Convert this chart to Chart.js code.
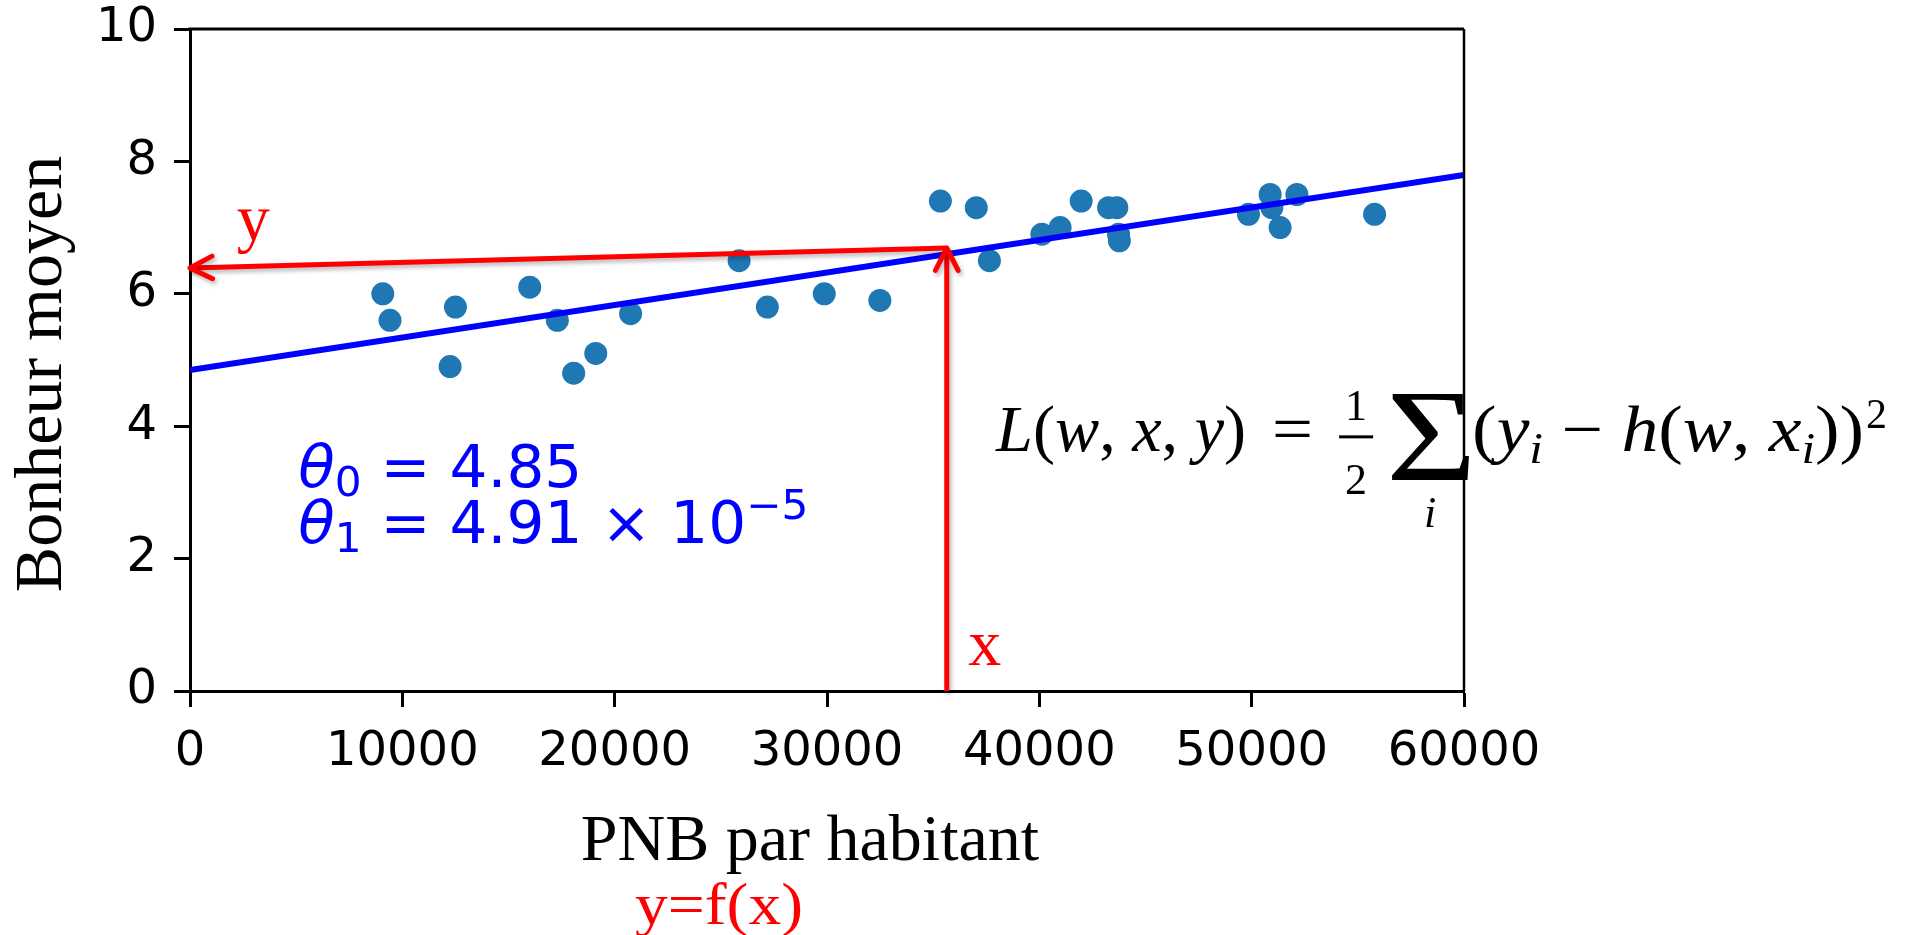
<!DOCTYPE html>
<html>
<head>
<meta charset="utf-8">
<script src="https://cdn.jsdelivr.net/npm/chart.js@4.4.1/dist/chart.umd.min.js"></script>
<style>
  html, body { margin: 0; padding: 0; background: #ffffff; }
  #wrap { width: 1912px; height: 935px; position: relative; }
</style>
</head>
<body>
<div id="wrap"><canvas id="c"></canvas></div>
<script>
// ---- data ----
const gdpPerCapita = [9080, 9420, 12500, 12250, 16000, 17300, 18070, 19110, 20750, 25860, 27190, 29870, 32490, 35340, 37030, 37650, 40120, 40980, 41970, 43260, 43650, 43730, 43770, 49850, 50870, 50950, 51340, 52130, 55790];
const happiness    = [6.0, 5.6, 5.8, 4.9, 6.1, 5.6, 4.8, 5.1, 5.7, 6.5, 5.8, 6.0, 5.9, 7.4, 7.3, 6.5, 6.9, 7.0, 7.4, 7.3, 7.3, 6.9, 6.8, 7.2, 7.5, 7.3, 7.0, 7.5, 7.2];
const theta0 = 4.85;
const theta1 = 4.91e-5;
const lineXs = [0, 60000];
const xTickValues = [0, 10000, 20000, 30000, 40000, 50000, 60000];
const yTickValues = [0, 2, 4, 6, 8, 10];
// red arrows (data space): vertical x -> model, horizontal model -> y
const arrowXValue = 35640;
const arrowYModel = 6.69;
const arrowYEnd = 6.39;
const vArrowXs = [arrowXValue, arrowXValue];
const vArrowYs = [0, arrowYModel];
const hArrowXs = [arrowXValue, 0];
const hArrowYs = [arrowYModel, arrowYEnd];
// annotation anchors (data space)
const thetaAnchor = [5100, 3.08];
const yLabelAnchor = [2200, 6.82];
const xLabelAnchor = [36650, 0.39];
const formulaAnchor = [37965, 3.62];

const scatterPts = gdpPerCapita.map((x, i) => ({ x: x, y: happiness[i] }));
const modelPts = lineXs.map(x => ({ x: x, y: theta0 + theta1 * x }));
const vArrowPts = vArrowXs.map((x, i) => ({ x: x, y: vArrowYs[i] }));
const hArrowPts = hArrowXs.map((x, i) => ({ x: x, y: hArrowYs[i] }));

function drawRuns(ctx, runs, x, y, targetW) {
  let total = 0;
  runs.forEach(r => { ctx.font = r.f; r.w = ctx.measureText(r.t).width; total += r.w; });
  const sx = targetW ? targetW / total : 1;
  ctx.save();
  ctx.textAlign = 'left';
  ctx.translate(x, y);
  ctx.scale(sx, 1);
  let cx = 0;
  runs.forEach(r => {
    ctx.font = r.f;
    ctx.fillText(r.t, cx, r.dy || 0);
    cx += r.w;
  });
  ctx.restore();
}

function arrowHead(ctx, tx, ty, fromX, fromY) {
  const ang = Math.atan2(ty - fromY, tx - fromX);
  const len = 25, spread = 0.47;
  ctx.beginPath();
  ctx.moveTo(tx - len * Math.cos(ang - spread), ty - len * Math.sin(ang - spread));
  ctx.lineTo(tx, ty);
  ctx.lineTo(tx - len * Math.cos(ang + spread), ty - len * Math.sin(ang + spread));
  ctx.stroke();
}

const annot = {
  id: 'annot',
  beforeDatasetDraw(chart, args) {
    const ds = chart.data.datasets[args.index];
    if (ds.isArrow) {
      const ctx = chart.ctx;
      ctx.save();
      ctx.shadowColor = 'rgba(0,0,0,0.28)';
      ctx.shadowBlur = 4;
      ctx.shadowOffsetX = 2;
      ctx.shadowOffsetY = 3;
    }
  },
  afterDatasetDraw(chart, args) {
    const ds = chart.data.datasets[args.index];
    if (ds.isArrow) chart.ctx.restore();
  },
  afterDatasetsDraw(chart) {
    const ctx = chart.ctx;
    const xs = chart.scales.x, ys = chart.scales.y;
    const ca = chart.chartArea;
    const px = v => xs.getPixelForValue(v), py = v => ys.getPixelForValue(v);

    // frame top & right
    ctx.save();
    ctx.strokeStyle = '#000';
    ctx.lineWidth = 3;
    ctx.beginPath();
    ctx.moveTo(ca.left - 1.5, ca.top);
    ctx.lineTo(ca.right, ca.top);
    ctx.stroke();
    ctx.lineWidth = 2.5;
    ctx.beginPath();
    ctx.moveTo(ca.right, ca.top);
    ctx.lineTo(ca.right, ca.bottom);
    ctx.stroke();
    ctx.restore();

    // arrow heads
    ctx.save();
    ctx.strokeStyle = '#ff0000';
    ctx.lineWidth = 5;
    ctx.lineCap = 'round';
    ctx.lineJoin = 'round';
    ctx.shadowColor = 'rgba(0,0,0,0.28)';
    ctx.shadowBlur = 4;
    ctx.shadowOffsetX = 2;
    ctx.shadowOffsetY = 3;
    arrowHead(ctx, px(vArrowXs[1]), py(vArrowYs[1]), px(vArrowXs[0]), py(vArrowYs[0]));
    arrowHead(ctx, px(hArrowXs[1]), py(hArrowYs[1]), px(hArrowXs[0]), py(hArrowYs[0]));
    ctx.restore();

    ctx.save();
    ctx.textBaseline = 'alphabetic';
    ctx.textAlign = 'left';

    // red y / x labels
    ctx.fillStyle = '#ff0000';
    ctx.font = '66px "Liberation Serif"';
    ctx.fillText('y', px(yLabelAnchor[0]), py(yLabelAnchor[1]));
    ctx.fillText('x', px(xLabelAnchor[0]), py(xLabelAnchor[1]));

    // theta parameters
    ctx.fillStyle = '#0000ff';
    const tx = px(thetaAnchor[0]), ty = py(thetaAnchor[1]);
    const big = '58px "DejaVu Sans"', ital = 'oblique 58px "DejaVu Sans"', small = '41px "DejaVu Sans"';
    drawRuns(ctx, [
      { t: 'θ', f: ital }, { t: '0', f: small, dy: 9 }, { t: ' = 4.85', f: big }
    ], tx, ty, 284);
    drawRuns(ctx, [
      { t: 'θ', f: ital }, { t: '1', f: small, dy: 9 }, { t: ' = 4.91 × 10', f: big }, { t: '−5', f: small, dy: -24 }
    ], tx, ty + 56, 510);

    // loss formula
    ctx.fillStyle = '#000000';
    const fx = px(formulaAnchor[0]), fy = py(formulaAnchor[1]);
    const rm = '66px "Liberation Serif"', it = 'italic 66px "Liberation Serif"';
    const sub = 'italic 44px "Liberation Serif"';
    drawRuns(ctx, [
      { t: 'L', f: it }, { t: '(', f: rm }, { t: 'w', f: it }, { t: ', ', f: rm },
      { t: 'x', f: it }, { t: ', ', f: rm }, { t: 'y', f: it }, { t: ')', f: rm }
    ], fx, fy, 250);
    drawRuns(ctx, [{ t: '=', f: rm }], fx + 276, fy, 41);
    ctx.textAlign = 'center';
    ctx.font = '44px "Liberation Serif"';
    ctx.fillText('1', fx + 360, fy - 31);
    ctx.fillText('2', fx + 360, fy + 43);
    ctx.fillRect(fx + 343, fy - 16, 34, 3);
    // big sigma fitted into box
    ctx.textAlign = 'left';
    ctx.font = '120px "Liberation Serif"';
    const m = ctx.measureText('Σ');
    const gw = m.actualBoundingBoxLeft + m.actualBoundingBoxRight;
    const gh = m.actualBoundingBoxAscent + m.actualBoundingBoxDescent;
    const bx0 = fx + 395, bx1 = fx + 473, by0 = fy - 58, by1 = fy + 29;
    ctx.save();
    ctx.translate(bx0, by0);
    ctx.scale((bx1 - bx0) / gw, (by1 - by0) / gh);
    ctx.fillText('Σ', m.actualBoundingBoxLeft, m.actualBoundingBoxAscent);
    ctx.restore();
    ctx.textAlign = 'center';
    ctx.font = 'italic 44px "Liberation Serif"';
    ctx.fillText('i', fx + 434, fy + 76);
    ctx.textAlign = 'left';
    drawRuns(ctx, [
      { t: '(', f: rm }, { t: 'y', f: it }, { t: 'i', f: sub, dy: 12 }, { t: ' − ', f: rm },
      { t: 'h', f: it }, { t: '(', f: rm }, { t: 'w', f: it }, { t: ', ', f: rm },
      { t: 'x', f: it }, { t: 'i', f: sub, dy: 12 }, { t: '))', f: rm }
    ], fx + 476, fy, 392);
    ctx.font = '42px "Liberation Serif"';
    ctx.fillText('2', fx + 870, fy - 23);

    // axis titles
    const cx = (ca.left + ca.right) / 2;
    ctx.textAlign = 'center';
    ctx.fillStyle = '#000000';
    ctx.font = '66px "Liberation Serif"';
    ctx.fillText('PNB par habitant', cx - 17, ca.bottom + 169);
    ctx.fillStyle = '#ff0000';
    drawRuns(ctx, [{ t: 'y=f(x)', f: '60px "Liberation Serif"' }], cx - 192, ca.bottom + 233, 168);
    ctx.fillStyle = '#000000';
    ctx.font = '68px "Liberation Serif"';
    ctx.save();
    ctx.translate(ca.left - 129, (ca.top + ca.bottom) / 2 + 14);
    ctx.rotate(-Math.PI / 2);
    ctx.textAlign = 'center';
    ctx.fillText('Bonheur moyen', 0, 0);
    ctx.restore();

    ctx.restore();
  }
};

const tickFont = { family: '"DejaVu Sans"', size: 48 };

new Chart(document.getElementById('c'), {
  data: {
    datasets: [
      { type: 'line', isArrow: true, data: vArrowPts, borderColor: '#ff0000', borderWidth: 5,
        pointRadius: 0, showLine: true, fill: false, order: 1, clip: false },
      { type: 'line', isArrow: true, data: hArrowPts, borderColor: '#ff0000', borderWidth: 5,
        pointRadius: 0, showLine: true, fill: false, order: 1, clip: false },
      { type: 'line', data: modelPts, borderColor: '#0000ff', borderWidth: 6,
        pointRadius: 0, fill: false, order: 2 },
      { type: 'scatter', data: scatterPts, backgroundColor: '#1f77b4', borderWidth: 0,
        pointRadius: 11.5, pointHoverRadius: 11.5, order: 3 }
    ]
  },
  options: {
    responsive: true,
    maintainAspectRatio: false,
    animation: false,
    events: [],
    layout: { padding: { top: 29, right: 448, left: 0, bottom: 0 } },
    plugins: { legend: { display: false }, tooltip: { enabled: false } },
    scales: {
      x: {
        type: 'linear', min: 0, max: 60000,
        afterBuildTicks: s => { s.ticks = xTickValues.map(v => ({ value: v })); },
        ticks: { font: tickFont, color: '#000', padding: 17, maxRotation: 0, autoSkip: false,
                 callback: v => String(v) },
        grid: { drawOnChartArea: false, drawTicks: true, tickLength: 16, tickWidth: 3, tickColor: '#000' },
        border: { display: true, color: '#000', width: 3 },
        afterFit: s => { s.height = 244; s.paddingLeft = 0; s.paddingRight = 0; }
      },
      y: {
        type: 'linear', min: 0, max: 10,
        afterBuildTicks: s => { s.ticks = yTickValues.map(v => ({ value: v })); },
        ticks: { font: tickFont, color: '#000', padding: 17, autoSkip: false,
                 callback: v => String(v) },
        grid: { drawOnChartArea: false, drawTicks: true, tickLength: 16, tickWidth: 3, tickColor: '#000' },
        border: { display: true, color: '#000', width: 3 },
        afterFit: s => { s.width = 190; s.paddingTop = 0; s.paddingBottom = 0; }
      }
    }
  },
  plugins: [annot]
});
</script>
</body>
</html>
